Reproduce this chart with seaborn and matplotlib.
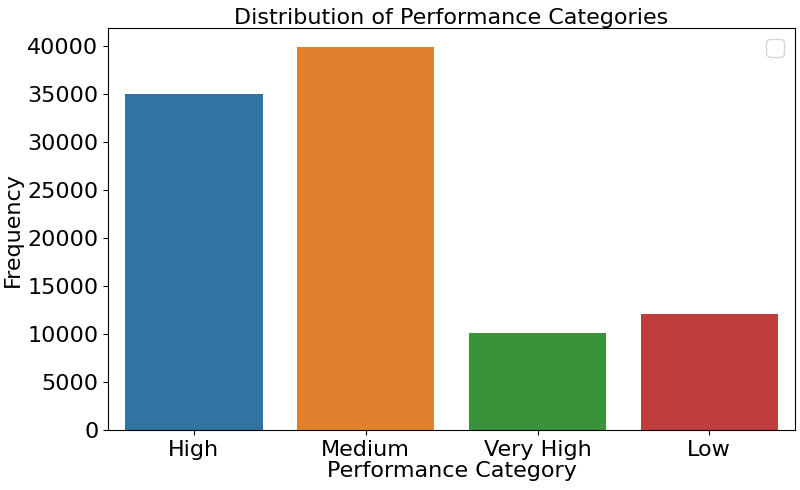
import matplotlib
matplotlib.use("Agg")
import matplotlib.pyplot as plt
import seaborn as sns
import pandas as pd

categories = ["High", "Medium", "Very High", "Low"]
frequencies = [34950, 39850, 10150, 12050]

df = pd.DataFrame({"Performance Category": categories, "Frequency": frequencies})

plt.rcParams['font.family'] = ['DejaVu Sans']
plt.rcParams['font.size'] = 16
fig = plt.figure(figsize=(8, 4.9), dpi=100)
ax = fig.add_axes([0.135, 0.122, 0.859, 0.821])
sns.barplot(data=df, x="Performance Category", y="Frequency",
            hue="Performance Category", palette="tab10", legend=False, ax=ax)
ax.set_title("Distribution of Performance Categories", fontsize=16, pad=3)
ax.set_xlabel("Performance Category", fontsize=16, labelpad=1)
ax.set_ylabel("Frequency", fontsize=16, labelpad=3)
ax.tick_params(labelsize=16)
ax.set_yticks(range(0, 40001, 5000))
ax.legend(fontsize=16)
fig.savefig("out.png", dpi=100)
